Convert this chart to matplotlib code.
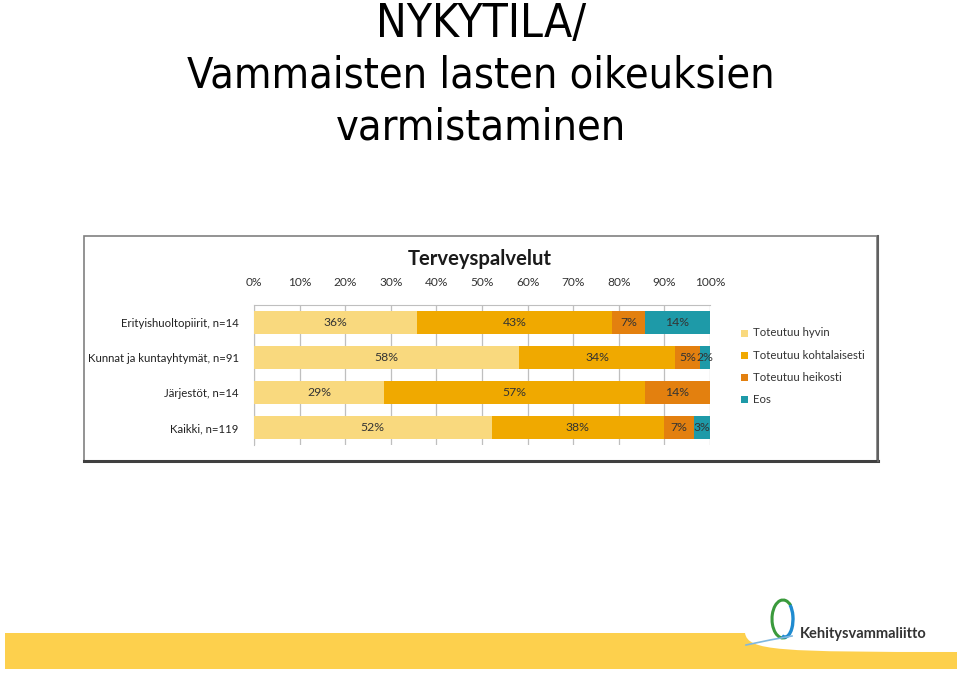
import matplotlib
matplotlib.use("Agg")
import matplotlib.pyplot as plt
from matplotlib.patches import Rectangle, Arc, PathPatch
from matplotlib.path import Path
import numpy as np

# ---------------- data ----------------
categories = ["Erityishuoltopiirit, n=14", "Kunnat ja kuntayhtymät, n=91",
              "Järjestöt, n=14", "Kaikki, n=119"]
series_names = ["Toteutuu hyvin", "Toteutuu kohtalaisesti", "Toteutuu heikosti", "Eos"]
hyvin = [35.7, 58.2, 28.6, 52.1]
kohtalaisesti = [42.9, 34.1, 57.1, 37.8]
heikosti = [7.1, 5.49, 14.3, 6.7]
eos = [14.3, 2.2, 0.0, 3.4]
tick_labels = ["0%", "10%", "20%", "30%", "40%", "50%", "60%", "70%", "80%", "90%", "100%"]
colors = ["#F9D97E", "#F0A900", "#E3800F", "#1E9AA8"]

W, H = 960, 673
fig = plt.figure(figsize=(W / 100, H / 100), dpi=100)
fig.patch.set_facecolor("white")

def fx(x):
    return x / W

def fy(y):
    return 1 - y / H

# ---------------- slide title ----------------
title_font = "DejaVu Sans"
fig.text(fx(481), fy(37), "NYKYTILA/", ha="center", va="baseline", fontsize=33,
         family=title_font, fontstretch="condensed", color="black")
for txt, yb in [("Vammaisten lasten oikeuksien", 88), ("varmistaminen", 139)]:
    fig.text(fx(481), fy(yb), txt, ha="center", va="baseline", fontsize=31,
             family=title_font, fontstretch="condensed", color="black")

# ---------------- chart frame ----------------
frame = Rectangle((fx(84), fy(461)), fx(877) - fx(84), fy(236) - fy(461),
                  transform=fig.transFigure, facecolor="white", edgecolor="#808080",
                  linewidth=1.2, zorder=0)
fig.patches.append(frame)
fig.add_artist(plt.Line2D([fx(84), fx(878)], [fy(461), fy(461)], transform=fig.transFigure,
                          color="#404040", linewidth=2.2))
fig.add_artist(plt.Line2D([fx(878), fx(878)], [fy(461), fy(236)], transform=fig.transFigure,
                          color="#606060", linewidth=1.5))

chart_font = ["Lato", "DejaVu Sans"]
fig.text(fx(480), fy(259), "Terveyspalvelut", ha="center", va="center", fontsize=14.6,
         fontweight="bold", family=chart_font, color="#1a1a1a")

# ---------------- bar axes ----------------
ax = fig.add_axes([fx(254), fy(445), fx(710) - fx(254), fy(305) - fy(445)])
ax.set_zorder(5)
ax.set_facecolor("none")
y = np.arange(len(categories))
series = [hyvin, kohtalaisesti, heikosti, eos]
left = np.zeros(len(categories))
for vals, col, name in zip(series, colors, series_names):
    vals = np.array(vals)
    ax.barh(y, vals, left=left, height=0.63, color=col, label=name, zorder=3)
    for yi, (l, v) in enumerate(zip(left, vals)):
        if v > 0:
            ax.text(l + v / 2, yi, f"{int(np.floor(v + 0.5)):d}%", ha="center", va="center",
                    fontsize=8.8, family=chart_font, color="#333333", zorder=4)
    left = left + vals

ax.set_xlim(0, 100)
ax.set_ylim(len(categories) - 0.5, -0.5)
ax.set_xticks(np.arange(0, 101, 10))
ax.set_xticklabels(tick_labels, fontsize=8.6, family=chart_font, color="#333333")
ax.xaxis.tick_top()
ax.tick_params(axis="x", length=0, pad=12)
ax.set_yticks(y)
ax.set_yticklabels(categories, fontsize=8.2, family=chart_font, color="#222222")
ax.tick_params(axis="y", length=0, pad=11)
ax.grid(axis="x", color="#bfbfbf", linewidth=0.9, zorder=0)
for s in ["right", "bottom"]:
    ax.spines[s].set_visible(False)
ax.spines["top"].set_color("#bfbfbf")
ax.spines["left"].set_color("#bfbfbf")

# ---------------- legend ----------------
for i, (name, col) in enumerate(zip(series_names, colors)):
    yy = 333 + i * 22.3
    fig.patches.append(Rectangle((fx(741), fy(yy + 3.5)), fx(7), fy(0) - fy(7),
                                 transform=fig.transFigure, facecolor=col, edgecolor="none"))
    fig.text(fx(753), fy(yy), name, ha="left", va="center", fontsize=8.2,
             family=chart_font, color="#333333")

# ---------------- bottom banner ----------------
band = Rectangle((fx(5), fy(669)), fx(957) - fx(5), fy(633) - fy(669),
                 transform=fig.transFigure, facecolor="#FDD04D", edgecolor="none")
fig.patches.append(band)
verts = [(fx(740), fy(633)), (fx(745), fy(633)),
         (fx(748), fy(651)), (fx(778), fy(652)),
         (fx(960), fy(652)), (fx(960), fy(633)), (fx(740), fy(633))]
codes = [Path.MOVETO, Path.LINETO, Path.CURVE4, Path.CURVE4, Path.LINETO, Path.LINETO, Path.CLOSEPOLY]
fig.patches.append(PathPatch(Path(verts, codes), transform=fig.transFigure,
                             facecolor="white", edgecolor="none"))

# logo
lax = fig.add_axes([fx(740), fy(650), fx(810) - fx(740), fy(592) - fy(650)])
lax.set_zorder(6)
lax.set_xlim(740, 810)
lax.set_ylim(650, 592)
lax.axis("off")
lax.add_patch(Arc((783, 619), 22, 38, theta1=80, theta2=300, color="#3A9A3C", linewidth=2.2))
lax.add_patch(Arc((785, 619), 16, 36, theta1=-70, theta2=100, color="#1F8BD0", linewidth=2.4))
lax.plot([746, 770, 792], [645, 640, 636], color="#7FB7DF", linewidth=1.2)
fig.text(fx(800), fy(634), "Kehitysvammaliitto", ha="left", va="center", fontsize=10.5,
         family=chart_font, fontweight="bold", color="#333333", zorder=7)

fig.savefig("out.png", dpi=100)
